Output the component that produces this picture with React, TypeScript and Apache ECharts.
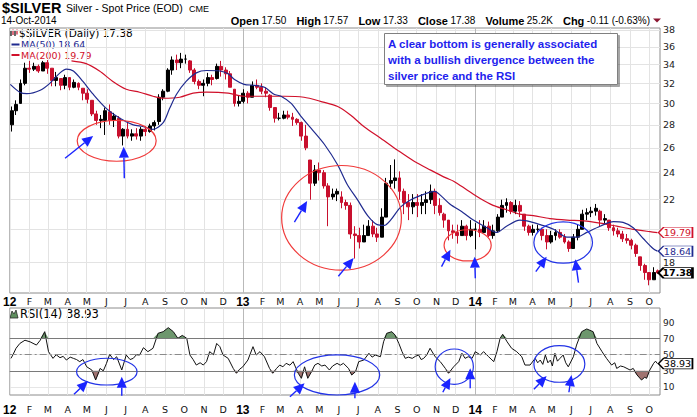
import React, { useEffect, useRef } from 'react';
import * as echarts from 'echarts';

// ---------- DATA ----------
// weekly OHLC bars, first week starting Monday 2012-01-02
const firstWeek = '2012-01-02';
const opens = [28.0,29.3,30.0,32.0,33.6,33.5,33.8,33.3,34.2,33.6,32.3,32.5,31.8,32.6,31.6,32.0,31.5,31.0,30.3,29.0,28.4,28.4,29.2,28.4,28.6,27.0,27.6,27.0,27.2,27.0,27.6,27.4,27.9,28.3,30.6,31.2,33.4,34.5,34.2,34.6,34.4,33.4,32.2,31.8,32.0,32.6,32.5,33.8,33.4,33.0,31.4,30.0,30.2,31.0,30.6,31.8,31.6,31.2,30.8,29.6,28.6,28.6,28.9,28.7,28.5,28.2,27.0,25.0,23.2,24.2,24.0,23.0,22.2,22.4,22.2,21.8,21.6,19.7,19.6,19.2,19.6,20.2,19.7,19.5,20.8,23.2,23.4,23.6,22.6,21.8,21.5,21.8,21.6,21.8,22.0,22.6,21.6,21.0,20.6,19.9,19.8,19.6,20.2,19.6,20.0,20.0,19.8,20.2,19.6,19.9,20.8,21.6,21.8,21.2,21.6,21.0,20.2,19.8,20.0,20.0,19.6,19.2,19.6,19.8,19.5,19.2,18.8,19.5,20.0,21.0,21.1,21.2,21.2,20.6,20.6,20.1,19.9,19.7,19.4,19.3,19.0,18.3,17.8,17.4,17.0,17.5];
const highs = [29.7,30.3,32.4,34.2,34.4,34.2,34.0,34.4,34.5,33.6,33.2,32.5,32.9,32.6,32.4,32.1,31.5,31.4,30.3,29.3,28.9,29.6,29.9,29.1,28.8,27.7,28.3,27.6,27.7,27.8,27.9,28.1,28.4,30.9,31.4,33.6,34.9,35.1,35.3,35.1,34.5,33.6,32.4,32.4,33.1,32.9,34.1,34.4,33.7,33.3,31.4,30.8,31.4,31.2,32.2,32.4,32.0,31.6,30.9,29.6,29.1,29.3,29.3,29.1,28.6,28.3,28.0,25.0,24.6,24.8,24.2,23.2,22.8,22.8,22.6,22.0,21.8,20.2,20.1,20.3,20.6,20.6,20.1,21.4,23.6,24.6,25.05,24.1,22.8,22.4,22.4,22.4,22.4,22.6,23.1,22.8,22.1,21.1,20.6,20.3,20.3,20.6,20.3,20.6,20.4,20.6,20.6,20.5,20.3,21.0,22.0,22.1,21.9,22.0,21.9,21.0,20.3,20.3,20.3,20.1,20.0,19.9,20.0,20.0,19.7,19.3,19.7,20.3,21.3,21.4,21.5,21.7,21.3,21.0,20.6,20.3,20.1,19.9,19.7,19.4,19.1,18.3,17.9,17.4,17.7,17.57];
const lows = [27.4,28.9,30.0,31.8,33.1,33.3,33.1,33.3,33.0,31.7,31.7,31.3,31.4,31.3,31.5,31.3,30.3,30.0,28.8,28.0,27.7,27.1,28.0,27.8,26.8,26.2,26.8,26.6,26.7,26.6,27.0,27.3,27.5,28.0,30.3,31.1,32.9,33.4,33.6,34.1,33.1,31.9,31.4,30.7,31.7,31.8,32.4,32.7,32.4,31.6,29.7,29.7,30.0,30.0,30.6,31.4,30.9,30.6,29.3,28.2,28.4,28.5,28.5,27.9,28.0,26.6,25.8,22.0,23.0,23.4,22.8,20.2,22.0,21.9,21.4,21.3,19.4,18.2,18.8,19.2,19.6,19.5,19.2,19.5,20.8,22.8,22.8,22.0,21.0,20.6,21.0,20.8,21.0,21.0,21.7,21.0,20.9,20.1,19.3,19.4,19.1,19.6,19.3,19.5,18.75,19.5,19.8,19.5,19.4,19.8,20.8,21.1,21.0,21.0,20.8,19.9,19.6,19.6,19.8,19.3,18.75,19.1,19.3,19.4,19.1,18.6,18.8,19.3,20.0,20.6,20.8,20.9,20.2,20.3,19.9,19.6,19.5,19.2,19.1,18.75,18.3,17.5,17.0,16.7,17.0,17.33];
const closes = [29.3,29.9,32.0,33.6,33.5,33.8,33.3,34.2,33.6,32.3,32.6,31.8,32.6,31.6,32.1,31.6,31.0,30.4,29.0,28.4,28.5,29.3,28.4,28.8,27.0,27.6,27.0,27.2,27.0,27.6,27.4,27.9,28.2,30.6,31.2,33.4,34.5,34.2,34.6,34.6,33.4,32.2,31.8,32.0,32.6,32.4,33.8,33.4,33.0,31.6,30.0,30.2,31.0,30.6,31.8,31.6,31.2,31.0,29.6,28.6,28.6,28.9,28.7,28.5,28.2,27.0,26.0,23.2,24.2,24.0,23.0,22.2,22.4,22.6,21.8,21.6,19.7,19.6,19.2,19.6,20.2,19.7,19.5,20.8,23.2,23.4,23.6,22.6,21.8,21.5,21.8,21.6,21.8,22.0,22.6,21.6,21.1,20.6,19.9,19.8,19.6,20.2,19.6,20.0,20.0,19.8,20.2,19.6,19.9,20.8,21.6,21.8,21.2,21.6,21.2,20.2,19.8,20.0,20.0,19.6,19.2,19.6,19.8,19.5,19.2,18.8,19.5,20.0,21.0,21.1,21.2,21.4,20.6,20.7,20.1,19.9,19.7,19.4,19.3,19.0,18.5,17.8,17.4,17.0,17.4,17.38];

const ma50: [string, number][] = [
  ['2012-01-02',31.9],['2012-01-17',31.1],['2012-01-28',30.95],['2012-02-18',31.3],['2012-03-04',32.0],['2012-03-20',33.1],['2012-03-30',33.5],['2012-04-10',33.3],['2012-04-25',32.2],['2012-05-11',30.9],['2012-06-01',29.5],['2012-06-22',28.6],['2012-07-13',28.0],['2012-07-28',27.85],['2012-08-13',27.6],['2012-08-29',28.2],['2012-09-08',29.5],['2012-09-19',30.9],['2012-10-04',32.2],['2012-10-20',33.1],['2012-11-05',33.35],['2012-11-26',33.3],['2012-12-09',33.0],['2012-12-19',32.4],['2013-01-03',31.9],['2013-01-19',31.8],['2013-02-04',31.6],['2013-02-19',30.9],['2013-03-02',30.7],['2013-03-18',30.0],['2013-04-02',28.8],['2013-04-18',27.7],['2013-05-09',26.3],['2013-05-30',24.6],['2013-06-14',23.1],['2013-06-30',22.0],['2013-07-16',20.9],['2013-07-31',20.3],['2013-08-11',20.25],['2013-08-21',20.6],['2013-09-06',21.5],['2013-09-22',22.0],['2013-10-13',22.4],['2013-10-29',22.6],['2013-11-10',22.2],['2013-11-22',21.7],['2013-12-13',21.1],['2013-12-29',20.6],['2014-01-19',20.1],['2014-02-04',19.8],['2014-02-19',20.2],['2014-03-12',20.6],['2014-03-28',20.5],['2014-04-13',20.3],['2014-05-04',20.0],['2014-05-25',19.5],['2014-06-09',19.5],['2014-06-25',19.8],['2014-07-16',20.2],['2014-08-06',20.5],['2014-08-21',20.45],['2014-09-06',20.1],['2014-09-22',19.4],['2014-10-07',18.8],['2014-10-14',18.64]
];
const ma200: [string, number][] = [
  ['2012-04-07',34.4],['2012-04-30',34.1],['2012-05-21',33.3],['2012-06-11',32.2],['2012-07-02',31.4],['2012-07-23',31.1],['2012-08-13',30.7],['2012-08-29',30.5],['2012-09-24',30.6],['2012-10-15',31.0],['2012-11-05',31.1],['2012-12-09',31.0],['2013-01-03',30.7],['2013-02-04',30.7],['2013-03-07',30.7],['2013-04-07',30.6],['2013-05-03',30.2],['2013-05-30',29.7],['2013-06-19',28.9],['2013-07-11',27.8],['2013-08-06',26.8],['2013-09-01',25.8],['2013-09-27',24.9],['2013-10-23',24.2],['2013-11-16',23.6],['2013-11-28',23.35],['2013-12-19',22.7],['2014-01-08',22.1],['2014-01-29',21.6],['2014-02-19',21.3],['2014-03-12',21.0],['2014-04-02',20.9],['2014-04-28',20.7],['2014-05-25',20.6],['2014-06-20',20.55],['2014-07-16',20.4],['2014-08-11',20.2],['2014-09-06',20.0],['2014-10-02',19.85],['2014-10-14',19.79]
];
const rsi14: [string, number][] = [
  ['2012-01-03',45.5],['2012-01-06',49.6],['2012-01-11',58],['2012-01-17',64],['2012-01-25',68],['2012-02-02',66],['2012-02-12',62],['2012-02-18',68],['2012-02-25',78.6],['2012-03-02',53.8],['2012-03-09',45.5],['2012-03-14',50],['2012-03-20',46.3],['2012-03-25',48],['2012-03-30',43.4],['2012-04-05',47],['2012-04-10',45.5],['2012-04-15',44],['2012-04-20',41.4],['2012-04-25',44],['2012-05-01',35],['2012-05-09',31],['2012-05-15',18.6],['2012-05-22',33],['2012-05-27',30],['2012-06-01',39.3],['2012-06-06',50.5],['2012-06-12',44],['2012-06-17',47.5],['2012-06-25',31],['2012-07-02',49.6],['2012-07-08',44],['2012-07-13',45.5],['2012-07-18',50],['2012-07-23',49.6],['2012-07-29',58.7],['2012-08-05',53.8],['2012-08-13',58],['2012-08-21',76.6],['2012-08-29',78.6],['2012-09-06',83.6],['2012-09-14',78.6],['2012-09-21',70.4],['2012-09-28',74],['2012-10-05',70.4],['2012-10-10',49.6],['2012-10-15',44],['2012-10-20',37.2],['2012-10-26',40],['2012-10-31',37.2],['2012-11-05',41.4],['2012-11-10',53.8],['2012-11-16',50],['2012-11-21',64],['2012-11-26',60],['2012-12-01',49.6],['2012-12-09',45.5],['2012-12-17',33],['2012-12-22',27],['2012-12-27',32],['2013-01-01',35],['2013-01-09',43.4],['2013-01-17',60],['2013-01-22',49.6],['2013-01-28',53.8],['2013-02-04',47.5],['2013-02-12',33],['2013-02-17',27],['2013-02-23',33],['2013-02-28',37.2],['2013-03-05',35],['2013-03-10',39.3],['2013-03-16',37],['2013-03-21',41.4],['2013-03-29',27],['2013-04-03',20.7],['2013-04-08',35],['2013-04-13',20.7],['2013-04-19',29],['2013-04-24',37.2],['2013-04-29',39.3],['2013-05-05',36],['2013-05-10',37.2],['2013-05-17',31],['2013-05-22',36],['2013-05-29',39.3],['2013-06-03',37],['2013-06-08',39.3],['2013-06-16',33],['2013-06-21',24.8],['2013-06-27',29],['2013-07-02',41.4],['2013-07-10',43.4],['2013-07-18',51.8],['2013-07-23',47],['2013-07-28',49.6],['2013-08-05',47.5],['2013-08-10',66],['2013-08-15',76.6],['2013-08-23',78.6],['2013-08-28',74.5],['2013-09-03',64],['2013-09-08',53.8],['2013-09-13',45.5],['2013-09-18',47],['2013-09-24',45.5],['2013-09-29',48],['2013-10-04',49.6],['2013-10-08',44],['2013-10-12',45.5],['2013-10-17',50],['2013-10-22',58],['2013-10-30',47.5],['2013-11-07',41.4],['2013-11-15',33],['2013-11-20',27],['2013-11-28',35],['2013-12-06',41.4],['2013-12-11',51.8],['2013-12-16',45.5],['2013-12-21',47.5],['2013-12-27',45.5],['2014-01-01',53.8],['2014-01-09',49.6],['2014-01-14',53.8],['2014-01-22',47.5],['2014-01-30',41.4],['2014-02-04',53.8],['2014-02-09',70.4],['2014-02-13',75.3],['2014-02-20',66],['2014-02-27',58],['2014-03-07',53.8],['2014-03-15',47.5],['2014-03-20',37.2],['2014-03-28',37.2],['2014-04-05',45.5],['2014-04-09',40],['2014-04-13',43.4],['2014-04-17',38],['2014-04-21',49.6],['2014-04-25',40],['2014-04-29',43.4],['2014-05-02',36],['2014-05-06',51.8],['2014-05-10',42],['2014-05-14',45.5],['2014-05-19',49.6],['2014-05-23',40],['2014-05-27',35],['2014-06-04',47.5],['2014-06-09',62],['2014-06-17',78.6],['2014-06-25',82],['2014-07-05',78.6],['2014-07-11',64],['2014-07-19',53.8],['2014-07-26',45.5],['2014-08-03',37.2],['2014-08-08',40],['2014-08-11',33],['2014-08-17',36],['2014-08-22',35],['2014-09-01',31],['2014-09-06',33],['2014-09-12',24.8],['2014-09-19',18.6],['2014-09-24',22],['2014-09-27',20.7],['2014-10-02',31],['2014-10-08',39.3],['2014-10-11',42],['2014-10-14',38.93]
];

const priceTicks = [18, 20, 22, 24, 26, 28, 30, 32, 34, 36, 38];
const priceTickLabels = [18, 22, 24, 26, 28, 30, 32, 34, 36, 38]; // 20 sits under the MA(200) tag in the reference
const rsiTicks = [10, 30, 50, 70, 90];
const monthTickLabels = ['12','F','M','A','M','J','J','A','S','O','N','D','13','F','M','A','M','J','J','A','S','O','N','D','14','F','M','A','M','J','J','A','S','O'];

const lastQuote = { date: '14-Oct-2014', open: '17.50', high: '17.57', low: '17.33', close: '17.38', volume: '25.2K', chg: '-0.11 (-0.63%)' };

// annotations in data coordinates
const RED = '#f03a3a';
const BLUE = '#2233e6';
const priceEllipses = [
  { from: '2012-04-16', to: '2012-08-18', top: 28.4, bottom: 24.9, color: RED },
  { from: '2013-03-03', to: '2013-09-07', top: 24.56, bottom: 17.53, color: RED },
  { from: '2013-11-13', to: '2014-01-26', top: 19.97, bottom: 18.06, color: RED },
  { from: '2014-04-03', to: '2014-07-04', top: 20.49, bottom: 17.93, color: BLUE },
];
const priceArrows: [string, number, string, number][] = [
  ['2012-03-28', 25.14, '2012-05-11', 27.02],
  ['2012-06-29', 23.58, '2012-06-28', 26.1],
  ['2013-03-23', 20.47, '2013-04-12', 21.9],
  ['2013-05-31', 17.19, '2013-06-24', 18.24],
  ['2013-11-09', 17.73, '2013-11-23', 18.73],
  ['2014-01-01', 17.08, '2013-12-31', 18.31],
  ['2014-04-06', 17.45, '2014-04-23', 18.31],
  ['2014-06-12', 16.84, '2014-06-07', 18.16],
];
const rsiEllipses = [
  { from: '2012-04-15', to: '2012-07-19', top: 45.6, bottom: 12.4, color: BLUE },
  { from: '2013-03-23', to: '2013-08-04', top: 49.7, bottom: 0, color: BLUE },
  { from: '2013-10-30', to: '2013-12-29', top: 57.1, bottom: 13.3, color: BLUE },
  { from: '2014-04-03', to: '2014-06-22', top: 61.2, bottom: 15.8, color: BLUE },
];
const rsiArrows: [string, number, string, number][] = [
  ['2012-04-11', 0.9, '2012-05-03', 17.4],
  ['2012-06-25', -0.9, '2012-06-25', 22.7],
  ['2013-03-16', -2.1, '2013-04-08', 14.5],
  ['2013-06-26', -4.1, '2013-06-26', 16.5],
  ['2013-11-11', 3.4, '2013-11-23', 21.1],
  ['2013-12-24', 8.3, '2013-12-24', 33.1],
  ['2014-04-03', 7.1, '2014-04-23', 23.6],
  ['2014-05-28', 3.4, '2014-06-01', 24.8],
];

// ---------- helpers ----------
const DAY = 86400000;
const BASE = Date.UTC(2012, 0, 1);
const dayOf = (s: string) => {
  const [y, m, d] = s.split('-').map(Number);
  return (Date.UTC(y, m - 1, d) - BASE) / DAY;
};
const lg = (v: number) => Math.log10(v);
const FONT = '"Liberation Sans", Arial, sans-serif';
const VFONT = '"DejaVu Sans", Verdana, sans-serif';
const BAR_RED = '#c8102e';
const MA50_C = '#1f2a8f';
const MA200_C = '#d0102a';

const monthDays: number[] = [];
for (let y = 2012; y <= 2014; y++) {
  for (let m = 0; m < 12; m++) {
    if (y === 2014 && m > 9) break;
    monthDays.push((Date.UTC(y, m, 1) - BASE) / DAY);
  }
}
const xFormatter = (v: number) => {
  const i = monthDays.findIndex((d) => Math.abs(d - v) < 0.5);
  const t = i >= 0 ? monthTickLabels[i] : '';
  return /\d/.test(t) ? `{y|${t}}` : t;
};
const splitColors = ['#b9b9b9', '#e3e3e3', '#e3e3e3', '#e3e3e3', '#e3e3e3', '#e3e3e3', '#e3e3e3', '#e3e3e3', '#e3e3e3', '#e3e3e3', '#e3e3e3', '#e3e3e3'];

const TAG_PATH = 'path://M0,5L6,0L40,0L40,10L6,10Z';

function ellipseRenderer(list: any[]) {
  return (params: any, api: any) => {
    const e = list[params.dataIndex];
    const p1 = api.coord([api.value(0), api.value(1)]);
    const p2 = api.coord([api.value(2), api.value(3)]);
    return {
      type: 'ellipse',
      silent: true,
      shape: { cx: (p1[0] + p2[0]) / 2, cy: (p1[1] + p2[1]) / 2, rx: Math.abs(p2[0] - p1[0]) / 2, ry: Math.abs(p2[1] - p1[1]) / 2 },
      style: { fill: 'none', stroke: e.color, lineWidth: 1.2 },
    };
  };
}
function arrowRenderer() {
  return (params: any, api: any) => {
    const t = api.coord([api.value(0), api.value(1)]);
    const h = api.coord([api.value(2), api.value(3)]);
    const dx = h[0] - t[0], dy = h[1] - t[1];
    const L = Math.hypot(dx, dy) || 1;
    const ux = dx / L, uy = dy / L;
    const hl = 11, hw = 5;
    const bx = h[0] - ux * hl, by = h[1] - uy * hl;
    return {
      type: 'group',
      silent: true,
      children: [
        { type: 'line', shape: { x1: t[0], y1: t[1], x2: bx, y2: by }, style: { stroke: '#1a24ff', lineWidth: 1.4 } },
        { type: 'polygon', shape: { points: [[h[0], h[1]], [bx - uy * hw, by + ux * hw], [bx + uy * hw, by - ux * hw]] }, style: { fill: '#1a24ff' } },
      ],
    };
  };
}

export default function App() {
  const ref = useRef<HTMLDivElement>(null);
  useEffect(() => {
    if (!ref.current) return;
    const chart = echarts.init(ref.current, undefined, { renderer: 'svg' });
    const w0 = dayOf(firstWeek);
    const candles = opens.map((o, i) => [w0 + 7 * i + 2, lg(o), lg(closes[i]), lg(lows[i]), lg(highs[i])]);
    const ma50Data = ma50.map(([d, v]) => [dayOf(d), lg(v)]);
    const ma200Data = ma200.map(([d, v]) => [dayOf(d), lg(v)]);
    const rsiData = rsi14.map(([d, v]) => [dayOf(d), v]);
    const overData = rsi14.map(([d, v]) => [dayOf(d), Math.max(v, 70)]);
    const underData = rsi14.map(([d, v]) => [dayOf(d), Math.min(v, 30)]);
    const lastDay = dayOf('2014-10-14');
    const ma50Last = ma50[ma50.length - 1][1];
    const ma200Last = ma200[ma200.length - 1][1];
    const closeLast = closes[closes.length - 1];
    const rsiLast = rsi14[rsi14.length - 1][1];

    const tag = (y: number, text: string, color: string, bold = false) => ({
      coord: [lastDay, y],
      symbol: TAG_PATH,
      symbolSize: [34, 10.5],
      symbolKeepAspect: false,
      symbolOffset: [18, 0],
      itemStyle: { color: '#fff', borderColor: color, borderWidth: bold ? 1.5 : 1 },
      label: { show: true, position: 'inside', offset: [2, 0], formatter: text, color: bold ? '#000' : color, fontFamily: VFONT, fontSize: 9.5, fontWeight: bold ? 'bold' : 'normal' },
    });

    const xAxisCommon = (gridIndex: number, margin: number) => ({
      type: 'value',
      gridIndex,
      min: 0,
      max: dayOf('2014-10-18'),
      axisLine: { show: false },
      axisTick: { show: false, customValues: monthDays },
      axisLabel: {
        customValues: monthDays,
        formatter: xFormatter,
        margin,
        color: '#111',
        fontFamily: VFONT,
        fontSize: 9.5,
        rich: { y: { fontFamily: FONT, fontWeight: 'bold', fontSize: 12, color: '#000' } },
      },
      splitLine: { show: true, lineStyle: { color: splitColors, width: 1 } },
    });

    const option: any = {
      animation: false,
      backgroundColor: '#fff',
      grid: [
        { left: 9, right: 37, top: 28, height: 265, show: true, backgroundColor: '#fff', borderColor: '#8c8c8c', borderWidth: 1 },
        { left: 9, right: 37, top: 308, height: 87, show: true, backgroundColor: '#fff', borderColor: '#8c8c8c', borderWidth: 1 },
      ],
      xAxis: [xAxisCommon(0, 3), xAxisCommon(1, 9)],
      yAxis: [
        {
          type: 'value', gridIndex: 0, position: 'right',
          min: lg(16.29), max: lg(38.245),
          axisLine: { show: false },
          axisTick: { show: false, customValues: priceTicks.map(lg) },
          axisLabel: { customValues: priceTickLabels.map(lg), formatter: (v: number) => String(Math.round(Math.pow(10, v))), margin: 3, color: '#222', fontFamily: VFONT, fontSize: 9.5 },
          splitLine: { show: true, lineStyle: { color: '#e3e3e3' } },
        },
        {
          type: 'value', gridIndex: 1, position: 'right',
          min: 0, max: 108,
          axisLine: { show: false },
          axisTick: { show: false, customValues: rsiTicks },
          axisLabel: { customValues: rsiTicks, margin: 3, color: '#222', fontFamily: VFONT, fontSize: 9 },
          splitLine: { show: true, lineStyle: { color: '#e6e6e6' } },
        },
      ],
      series: [
        {
          type: 'candlestick', name: '$SILVER', xAxisIndex: 0, yAxisIndex: 0,
          data: candles, barWidth: 3.4, z: 3,
          itemStyle: { color: '#000', color0: BAR_RED, borderColor: '#000', borderColor0: BAR_RED, borderWidth: 1 },
        },
        {
          type: 'line', name: 'MA(200)', xAxisIndex: 0, yAxisIndex: 0, data: ma200Data, smooth: 0.3,
          showSymbol: false, lineStyle: { color: MA200_C, width: 1.2 }, z: 4,
        },
        {
          type: 'line', name: 'MA(50)', xAxisIndex: 0, yAxisIndex: 0, data: ma50Data, smooth: 0.3,
          showSymbol: false, lineStyle: { color: MA50_C, width: 1.2 }, z: 4,
          markPoint: {
            silent: true,
            data: [
              tag(lg(ma200Last), ma200Last.toFixed(2), MA200_C),
              tag(lg(ma50Last), ma50Last.toFixed(2), MA50_C),
              tag(lg(closeLast), closeLast.toFixed(2), '#000', true),
            ],
          },
        },
        {
          type: 'custom', xAxisIndex: 0, yAxisIndex: 0, clip: false, z: 6, silent: true,
          data: priceEllipses.map((e) => [dayOf(e.from), lg(e.top), dayOf(e.to), lg(e.bottom)]),
          encode: { x: [0, 2], y: [1, 3] },
          renderItem: ellipseRenderer(priceEllipses),
        },
        {
          type: 'custom', xAxisIndex: 0, yAxisIndex: 0, clip: false, z: 7, silent: true,
          data: priceArrows.map((a) => [dayOf(a[0]), lg(a[1]), dayOf(a[2]), lg(a[3])]),
          encode: { x: [0, 2], y: [1, 3] },
          renderItem: arrowRenderer(),
        },
        {
          type: 'line', xAxisIndex: 1, yAxisIndex: 1, data: overData, showSymbol: false,
          lineStyle: { width: 0, opacity: 0 }, areaStyle: { origin: 70, color: '#6e976e', opacity: 1 }, z: 2,
        },
        {
          type: 'line', xAxisIndex: 1, yAxisIndex: 1, data: underData, showSymbol: false,
          lineStyle: { width: 0, opacity: 0 }, areaStyle: { origin: 30, color: '#a07370', opacity: 1 }, z: 2,
        },
        {
          type: 'line', name: 'RSI(14)', xAxisIndex: 1, yAxisIndex: 1, data: rsiData, showSymbol: false,
          lineStyle: { color: '#111', width: 1 }, z: 4,
          markLine: {
            silent: true, symbol: ['none', 'none'], label: { show: false },
            data: [
              { yAxis: 70, lineStyle: { color: '#7a7a7a', type: 'solid', width: 1 } },
              { yAxis: 30, lineStyle: { color: '#7a7a7a', type: 'solid', width: 1 } },
              { yAxis: 50, lineStyle: { color: '#8a8a8a', type: [7, 3, 2, 3], width: 1 } },
            ],
          },
          markPoint: {
            silent: true,
            data: [tag(rsiLast, rsiLast.toFixed(2), '#000')],
          },
        },
        {
          type: 'custom', xAxisIndex: 1, yAxisIndex: 1, clip: false, z: 6, silent: true,
          data: rsiEllipses.map((e) => [dayOf(e.from), e.top, dayOf(e.to), e.bottom]),
          encode: { x: [0, 2], y: [1, 3] },
          renderItem: ellipseRenderer(rsiEllipses),
        },
        {
          type: 'custom', xAxisIndex: 1, yAxisIndex: 1, clip: false, z: 7, silent: true,
          data: rsiArrows.map((a) => [dayOf(a[0]), a[1], dayOf(a[2]), a[3]]),
          encode: { x: [0, 2], y: [1, 3] },
          renderItem: arrowRenderer(),
        },
      ],
      graphic: [
        // header
        { type: 'text', x: 2, y: 7.5, style: { text: '$SILVER', font: `bold 14.5px ${FONT}`, fill: '#000', textVerticalAlign: 'middle' } },
        { type: 'text', x: 66, y: 8, style: { text: 'Silver - Spot Price (EOD)', font: `10.5px ${FONT}`, fill: '#000', textVerticalAlign: 'middle' } },
        { type: 'text', x: 189, y: 8.5, style: { text: 'CME', font: `9px ${FONT}`, fill: '#000', textVerticalAlign: 'middle' } },
        { type: 'text', x: 1, y: 20.5, style: { text: lastQuote.date, font: `10px ${FONT}`, fill: '#000', textVerticalAlign: 'middle' } },
        {
          type: 'text', x: 650, y: 20.5,
          style: {
            text: `{b|Open} {v|${lastQuote.open}}    {b|High} {v|${lastQuote.high}}    {b|Low} {v|${lastQuote.low}}    {b|Close} {v|${lastQuote.close}}    {b|Volume} {v|${lastQuote.volume}}    {b|Chg} {v|${lastQuote.chg}}`,
            font: `9px ${FONT}`, fill: '#000', textAlign: 'right', textVerticalAlign: 'middle',
            rich: {
              b: { fontFamily: FONT, fontWeight: 'bold', fontSize: 11, fill: '#000' },
              v: { fontFamily: FONT, fontSize: 10, fill: '#000' },
            },
          },
        },
        { type: 'polygon', shape: { points: [[653, 18.5], [661, 18.5], [657, 22.5]] }, style: { fill: '#8b1530' } },
        // legend of price panel
        { type: 'line', shape: { x1: 11, y1: 30, x2: 11, y2: 36 }, style: { stroke: '#000', lineWidth: 1.2 } },
        { type: 'line', shape: { x1: 13, y1: 29.5, x2: 13, y2: 35 }, style: { stroke: BAR_RED, lineWidth: 1.2 } },
        { type: 'line', shape: { x1: 15, y1: 30.5, x2: 15, y2: 36 }, style: { stroke: '#000', lineWidth: 1.2 } },
        { type: 'line', shape: { x1: 17, y1: 29.5, x2: 17, y2: 34.5 }, style: { stroke: BAR_RED, lineWidth: 1.2 } },
        { type: 'text', x: 19, y: 33, style: { text: `$SILVER (Daily) ${closeLast.toFixed(2)}`, font: `10.5px ${VFONT}`, fill: '#000', textVerticalAlign: 'middle' } },
        { type: 'rect', shape: { x: 11.5, y: 43.5, width: 8, height: 2 }, style: { fill: MA50_C } },
        { type: 'text', x: 21, y: 44.5, style: { text: `MA(50) ${ma50Last.toFixed(2)}`, font: `9.5px ${VFONT}`, fill: MA50_C, textVerticalAlign: 'middle' } },
        { type: 'rect', shape: { x: 11.5, y: 54, width: 8, height: 2 }, style: { fill: MA200_C } },
        { type: 'text', x: 21, y: 55, style: { text: `MA(200) ${ma200Last.toFixed(2)}`, font: `9.5px ${VFONT}`, fill: MA200_C, textVerticalAlign: 'middle' } },
        // commentary box
        {
          type: 'rect', shape: { x: 384.5, y: 33.5, width: 233, height: 51 },
          style: { fill: '#fff', stroke: '#808080', lineWidth: 1, shadowBlur: 1, shadowOffsetX: 2, shadowOffsetY: 2, shadowColor: 'rgba(0,0,0,0.35)' },
          z: 10,
        },
        { type: 'text', x: 388, y: 43.5, z: 11, style: { text: 'A clear bottom is generally associated', font: `bold 11.5px ${FONT}`, fill: '#1f1fee', textVerticalAlign: 'middle' } },
        { type: 'text', x: 388, y: 59.5, z: 11, style: { text: 'with a bullish divergence between the', font: `bold 11.5px ${FONT}`, fill: '#1f1fee', textVerticalAlign: 'middle' } },
        { type: 'text', x: 388, y: 75.5, z: 11, style: { text: 'silver price and the RSI', font: `bold 11.5px ${FONT}`, fill: '#1f1fee', textVerticalAlign: 'middle' } },
        // legend of RSI panel
        { type: 'polygon', shape: { points: [[10, 318], [12, 311], [14, 314], [16, 310], [18, 318]] }, style: { fill: '#5f8f5f', stroke: '#2a2a2a', lineWidth: 0.8 } },
        { type: 'text', x: 20, y: 314, style: { text: `RSI(14) ${rsiLast.toFixed(2)}`, font: `11.5px ${VFONT}`, fill: '#000', textVerticalAlign: 'middle' } },
      ],
    };
    chart.setOption(option);
    return () => chart.dispose();
  }, []);
  return <div ref={ref} style={{ position: 'fixed', left: 0, top: 0, width: 697, height: 417, background: '#fff' }} />;
}
